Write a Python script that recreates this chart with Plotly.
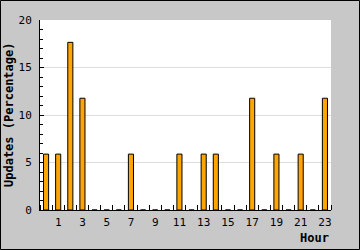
import plotly.graph_objects as go

hours = list(range(24))
counts = [1, 1, 3, 2, 0, 0, 0, 1, 0, 0, 0, 1, 0, 1, 1, 0, 0, 2, 0, 1, 0, 1, 0, 2]
total = sum(counts)
percent = [c * 100.0 / total for c in counts]
tick_hours = list(range(1, 24, 2))
tick_labels = [str(h) for h in tick_hours]

mono = "DejaVu Sans Mono"

fig = go.Figure()
fig.add_trace(go.Bar(
    x=hours, y=percent, width=0.42,
    marker=dict(color="#FFA500", line=dict(color="#000000", width=1)),
    hoverinfo="skip",
))

fig.update_layout(
    width=360, height=250,
    margin=dict(l=40, r=29, t=20, b=40),
    paper_bgcolor="#C8C8C8",
    plot_bgcolor="#FFFFFF",
    showlegend=False,
    font=dict(family=mono, size=11, color="#000000"),
    xaxis=dict(
        automargin=False,
        range=[-0.5, 23.5],
        tickmode="array", tickvals=tick_hours, ticktext=tick_labels,
        ticks="", showgrid=False, zeroline=False,
        showline=True, linecolor="#000000", linewidth=1,
        tickfont=dict(family=mono, size=11),
        minor=dict(tick0=0.5, dtick=1, ticks="inside", ticklen=5,
                   tickcolor="#000000", showgrid=False),
        ticklabelstandoff=2,
    ),
    yaxis=dict(
        automargin=False,
        range=[0, 20],
        tick0=0, dtick=5,
        ticks="inside", ticklen=4, tickcolor="#000000",
        showgrid=True, gridcolor="#DDDDDD", gridwidth=1,
        zeroline=False,
        showline=True, linecolor="#000000", linewidth=1,
        tickfont=dict(family=mono, size=11),
        minor=dict(dtick=1, ticks="inside", ticklen=3,
                   tickcolor="#000000", showgrid=False),
        ticklabelstandoff=5,
    ),
    annotations=[
        dict(text="<b>Hour</b>", xref="paper", yref="paper",
             x=1, y=-0.1, xanchor="right", yanchor="top",
             showarrow=False, font=dict(family=mono, size=12)),
        dict(text="<b>Updates (Percentage)</b>", xref="paper", yref="paper",
             x=-31/291, y=0.5, xanchor="center", yanchor="middle", textangle=-90,
             showarrow=False, font=dict(family=mono, size=12)),
    ],
    shapes=[dict(
        type="rect", xref="paper", yref="paper",
        x0=-39.5/291, x1=1 + 28.5/291, y0=-39.5/190, y1=1 + 19.5/190,
        line=dict(color="#000000", width=1), layer="below",
    )],
)

fig.write_html("out.html")
